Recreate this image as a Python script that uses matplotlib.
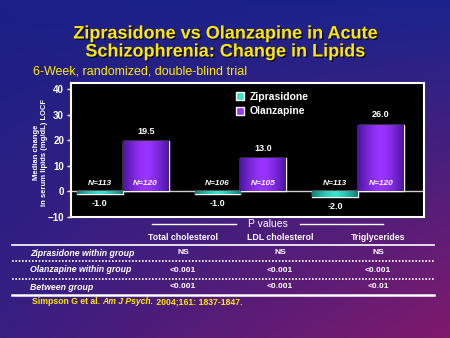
import numpy as np
import matplotlib
matplotlib.use('Agg')
from matplotlib import pyplot as plt
from matplotlib.patches import Patch
from matplotlib.lines import Line2D
from matplotlib.colors import LinearSegmentedColormap
import matplotlib.patheffects as pe

plt.rcParams['font.family'] = ['Liberation Sans', 'DejaVu Sans']

# data
categories = ['Total cholesterol', 'LDL cholesterol', 'Triglycerides']
zip_vals = [-1.0, -1.0, -2.0]
olz_vals = [19.5, 13.0, 26.0]
zip_n = [113, 106, 113]
olz_n = [120, 105, 120]
series_names = ['Ziprasidone', 'Olanzapine']
yticks = [-10, 0, 10, 20, 30, 40]

row_labels = ['Ziprasidone within group', 'Olanzapine within group', 'Between group']
p_total = ['NS', '<0.001', '<0.001']
p_ldl = ['NS', '<0.001', '<0.001']
p_trig = ['NS', '<0.001', '<0.01']

YELLOW = '#ffe800'
ZIP_DARK, ZIP_LIGHT = '#0e7f74', '#3ae0d0'
OLZ_DARK, OLZ_LIGHT = '#4a16a0', '#9a34ff'

fig = plt.figure(figsize=(4.5, 3.38), dpi=100)

# фон: синий сверху -> пурпурный внизу справа
bg = fig.add_axes([0, 0, 1, 1], zorder=-10)
bg.axis('off')
xx, yy = np.meshgrid(np.linspace(0, 1, 200), np.linspace(0, 1, 200))
tl = np.array([0x1a, 0x20, 0x86]) / 255
tr = np.array([0x1a, 0x24, 0x8c]) / 255
bl = np.array([0x38, 0x1e, 0x82]) / 255
br = np.array([0x80, 0x1a, 0x6c]) / 255
img = ((1 - xx)[..., None] * (1 - yy)[..., None] * tl + xx[..., None] * (1 - yy)[..., None] * tr
       + (1 - xx)[..., None] * yy[..., None] * bl + xx[..., None] * yy[..., None] * br)
bg.imshow(img, extent=[0, 1, 0, 1], aspect='auto', origin='upper')
bg.set_xlim(0, 1)
bg.set_ylim(0, 1)

# основной график
ax = fig.add_axes([71 / 450, 1 - 217 / 338, 353 / 450, 134 / 338])
ax.set_facecolor('black')
x = np.arange(len(categories))
w = 0.39
b1 = ax.bar(x - w / 2, zip_vals, w, color=ZIP_LIGHT, edgecolor='white', linewidth=1, zorder=3)
b2 = ax.bar(x + w / 2, olz_vals, w, color=OLZ_LIGHT, edgecolor='white', linewidth=1, zorder=3)

# горизонтальная заливка внутри столбцов
prof = np.abs(np.linspace(-1, 1, 64)) ** 1.5
for bars, c0, c1 in [(b1, ZIP_LIGHT, ZIP_DARK), (b2, OLZ_LIGHT, OLZ_DARK)]:
    cmap = LinearSegmentedColormap.from_list('g', [c0, c1])
    for p in bars:
        x0, y0 = p.get_x(), p.get_y()
        x1, y1 = x0 + p.get_width(), y0 + p.get_height()
        im = ax.imshow(prof[None, :], cmap=cmap, extent=[x0, x1, min(y0, y1), max(y0, y1)],
                       aspect='auto', zorder=3.5, vmin=0, vmax=1)
        im.set_clip_path(p)

ax.axhline(0, color='#d0d0d0', linewidth=1, zorder=2)
ax.set_xlim(-0.44, 2.56)
ax.set_ylim(-10, 42.3)
ax.set_xticks([])
ax.set_yticks(yticks)
ax.tick_params(axis='y', colors='white', labelsize=7, length=3, width=1, pad=2)
for lab in ax.get_yticklabels():
    lab.set_fontweight('bold')
for s in ax.spines.values():
    s.set_color('white')
    s.set_linewidth(1.5)

for i in range(len(categories)):
    ax.annotate(f'{zip_vals[i]:.1f}', (x[i] - w / 2, zip_vals[i]), xytext=(0, -4),
                textcoords='offset points', ha='center', va='top', color='white',
                fontsize=6.5, fontweight='bold')
    ax.annotate(f'{olz_vals[i]:.1f}', (x[i] + w / 2, olz_vals[i]), xytext=(0, 4),
                textcoords='offset points', ha='center', va='bottom', color='white',
                fontsize=6.5, fontweight='bold')
    ax.text(x[i] - w / 2, 3, f'N={zip_n[i]}', ha='center', va='center', color='white',
            fontsize=6, fontweight='bold', style='italic', zorder=5)
    ax.text(x[i] + w / 2, 3, f'N={olz_n[i]}', ha='center', va='center', color='white',
            fontsize=6, fontweight='bold', style='italic', zorder=5)

handles = [Patch(facecolor=ZIP_LIGHT, edgecolor='white'), Patch(facecolor=OLZ_LIGHT, edgecolor='white')]
leg = ax.legend(handles, series_names, loc='upper left', bbox_to_anchor=(0.467, 0.935),
                frameon=False, handlelength=0.8, handleheight=0.8, handletextpad=0.5,
                borderpad=0, borderaxespad=0, labelspacing=0.45,
                prop={'size': 7.5, 'weight': 'bold'})
for t in leg.get_texts():
    t.set_color('white')

fig.text(40 / 450, 1 - 152 / 338, 'Median change\nin serum lipids (mg/dL) LOCF', rotation=90,
         ha='center', va='center', color='white', fontsize=5.5, fontweight='bold',
         multialignment='center')

# заголовки
shadow = [pe.SimplePatchShadow(offset=(1, -1), shadow_rgbFace='black', alpha=0.7), pe.Normal()]
fig.text(0.5, 1 - 34 / 338, 'Ziprasidone vs Olanzapine in Acute', ha='center', va='center',
         color=YELLOW, fontsize=13, fontweight='bold', path_effects=shadow)
fig.text(0.5, 1 - 52 / 338, 'Schizophrenia: Change in Lipids', ha='center', va='center',
         color=YELLOW, fontsize=13, fontweight='bold', path_effects=shadow)
fig.text(33 / 450, 1 - 71 / 338, '6-Week, randomized, double-blind trial', ha='left', va='center',
         color=YELLOW, fontsize=9)


# таблица p-значений
def fy(py):
    return 1 - py / 338


col_x = [183 / 450, 280 / 450, 378 / 450]
fig.text(268 / 450, fy(224), 'P values', ha='center', va='center', color='white', fontsize=7.5)
fig.add_artist(Line2D([152 / 450, 236 / 450], [fy(224)] * 2, color='white', lw=1))
fig.add_artist(Line2D([300 / 450, 383 / 450], [fy(224)] * 2, color='white', lw=1))
for cx, c in zip(col_x, categories):
    fig.text(cx, fy(237), c, ha='center', va='center', color='white', fontsize=6.3, fontweight='bold')

fig.add_artist(Line2D([12 / 450, 434 / 450], [fy(245)] * 2, color='white', lw=1.2))
fig.add_artist(Line2D([12 / 450, 434 / 450], [fy(261)] * 2, color='white', lw=1.2, ls=(0, (1, 1))))
fig.add_artist(Line2D([12 / 450, 434 / 450], [fy(279)] * 2, color='white', lw=1.2, ls=(0, (1, 1))))
fig.add_artist(Line2D([12 / 450, 434 / 450], [fy(295)] * 2, color='white', lw=1.8))

row_y = [253, 270, 287]
for j, lab in enumerate(row_labels):
    fig.text(30 / 450, fy(row_y[j]), lab, ha='left', va='center', color='white', fontsize=6.3,
             fontweight='bold', style='italic')
    for cx, col in zip(col_x, [p_total, p_ldl, p_trig]):
        fig.text(cx, fy(row_y[j]), col[j], ha='center', va='center', color='white', fontsize=6,
                 fontweight='bold')

# ссылка
r = fig.canvas.get_renderer()
t1 = fig.text(32 / 450, fy(302), 'Simpson G et al.\u00a0', ha='left', va='center', color=YELLOW,
              fontsize=6.2, fontweight='bold')
ext = t1.get_window_extent(r)
t2 = fig.text(ext.x1 / fig.bbox.width, fy(302), 'Am J Psych.', ha='left', va='center', color=YELLOW,
              fontsize=6.2, fontweight='bold', style='italic')
ext2 = t2.get_window_extent(r)
fig.text(ext2.x1 / fig.bbox.width, fy(302), '\u00a02004;161: 1837-1847.', ha='left', va='center',
         color=YELLOW, fontsize=6.2, fontweight='bold')

fig.savefig('out.png', dpi=100)
